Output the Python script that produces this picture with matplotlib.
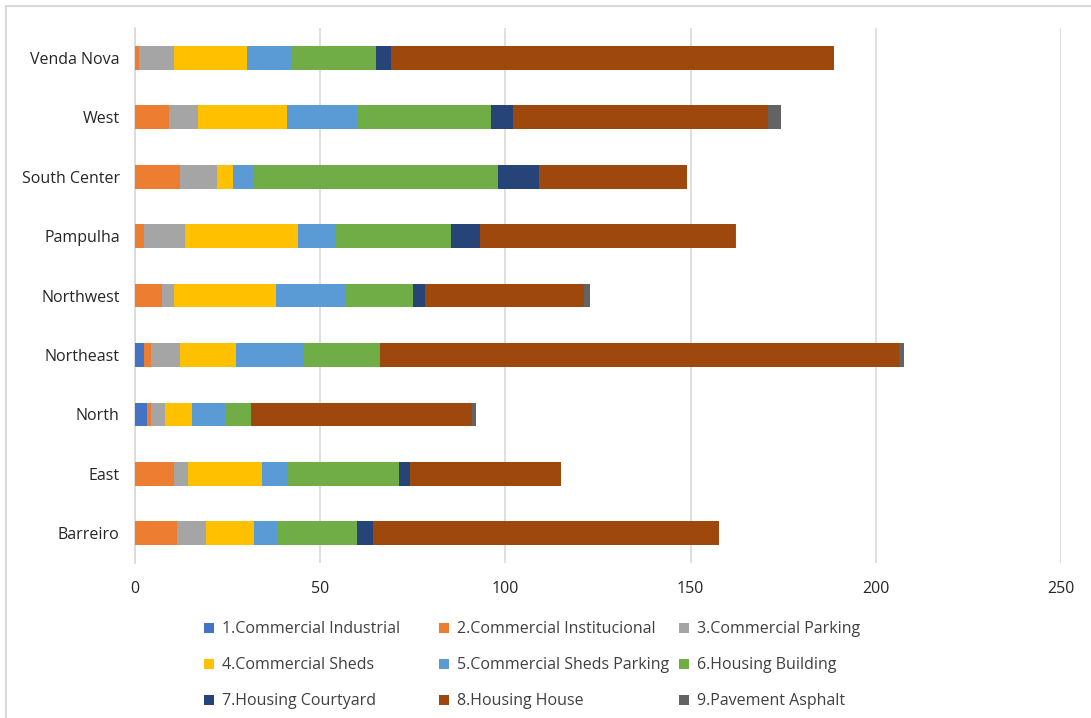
import matplotlib.pyplot as plt
from matplotlib import font_manager
from matplotlib.patches import Rectangle

# Pick a narrow sans face if one is around, otherwise fall back
installed = {f.name for f in font_manager.fontManager.ttflist}
for name in ["Liberation Sans Narrow", "Open Sans", "DejaVu Sans"]:
    if name in installed:
        plt.rcParams['font.family'] = [name, 'DejaVu Sans']
        break

regions = ["Barreiro", "East", "North", "Northeast", "Northwest",
           "Pampulha", "South Center", "West", "Venda Nova"]

# Area per land-use class, one list per class (same order as regions)
commercial_industrial = [0, 0, 3.2, 2.5, 0, 0, 0, 0, 0]
commercial_institucional = [11.3, 10.5, 1.0, 1.8, 7.2, 2.3, 12.2, 9.3, 1.0]
commercial_parking = [7.9, 3.7, 3.9, 7.8, 3.2, 11.1, 9.9, 7.8, 9.4]
commercial_sheds = [13.0, 20.2, 7.3, 15.1, 27.8, 30.6, 4.3, 24.0, 19.8]
commercial_sheds_parking = [6.1, 6.7, 8.8, 18.1, 18.8, 10.2, 5.8, 18.9, 12.0]
housing_building = [21.6, 30.3, 7.2, 20.9, 18.0, 31.0, 65.9, 36.0, 22.8]
housing_courtyard = [4.3, 2.9, 0, 0, 3.2, 7.9, 10.9, 6.0, 4.2]
housing_house = [93.5, 40.6, 59.6, 140.1, 43.0, 68.8, 39.9, 69.0, 119.5]
pavement_asphalt = [0, 0, 1.1, 1.4, 1.6, 0.4, 0, 3.4, 0]

series = [
    ("1.Commercial Industrial", commercial_industrial, "#4472C4"),
    ("2.Commercial Institucional", commercial_institucional, "#ED7D31"),
    ("3.Commercial Parking", commercial_parking, "#A5A5A5"),
    ("4.Commercial Sheds", commercial_sheds, "#FFC000"),
    ("5.Commercial Sheds Parking", commercial_sheds_parking, "#5B9BD5"),
    ("6.Housing Building", housing_building, "#70AD47"),
    ("7.Housing Courtyard", housing_courtyard, "#264478"),
    ("8.Housing House", housing_house, "#9E480E"),
    ("9.Pavement Asphalt", pavement_asphalt, "#636363"),
]

W, H = 1091, 718
fig = plt.figure(figsize=(W / 100, H / 100), dpi=100)
ax = fig.add_axes([135 / W, 1 - 563 / H, (1061 - 135) / W, (563 - 28) / H])

left = [0] * len(regions)
handles = []
for label, values, color in series:
    bars = ax.barh(regions, values, left=left, height=0.4, color=color,
                   label=label, zorder=3)
    handles.append(bars)
    left = [a + b for a, b in zip(left, values)]

ax.set_xlim(0, 250)
ax.set_ylim(-0.5, len(regions) - 0.5)
ax.set_xticks(range(0, 251, 50))
ax.grid(axis='x', color='#D9D9D9', linewidth=1.2, zorder=0)
for side in ['top', 'right', 'bottom']:
    ax.spines[side].set_visible(False)
ax.spines['left'].set_color('#D9D9D9')
ax.spines['left'].set_linewidth(1.2)
ax.tick_params(axis='both', length=0, labelsize=11.5)
ax.tick_params(axis='x', pad=13)
ax.tick_params(axis='y', pad=11)
for t in ax.get_yticklabels() + ax.get_xticklabels():
    t.set_color('#262626')

# One legend per column so the columns sit at fixed positions
col_x = [198, 433, 673]
for c in range(3):
    idx = [c, c + 3, c + 6]
    leg = fig.legend([handles[i] for i in idx], [series[i][0] for i in idx],
                     loc='upper left', bbox_to_anchor=(col_x[c] / W, 1 - 615 / H),
                     frameon=False, fontsize=11.5, handlelength=0.6,
                     handleheight=0.6, handletextpad=0.5, labelspacing=1.25,
                     borderaxespad=0)
    for t in leg.get_texts():
        t.set_color('#404040')

# Chart frame, left and top edges only inside the image
fig.patches.append(Rectangle((6 / W, -0.1), 1.2, (718 - 6) / H + 0.1,
                             transform=fig.transFigure, fill=False,
                             edgecolor='#D9D9D9', linewidth=1.5))

fig.savefig("out.png", dpi=100)
